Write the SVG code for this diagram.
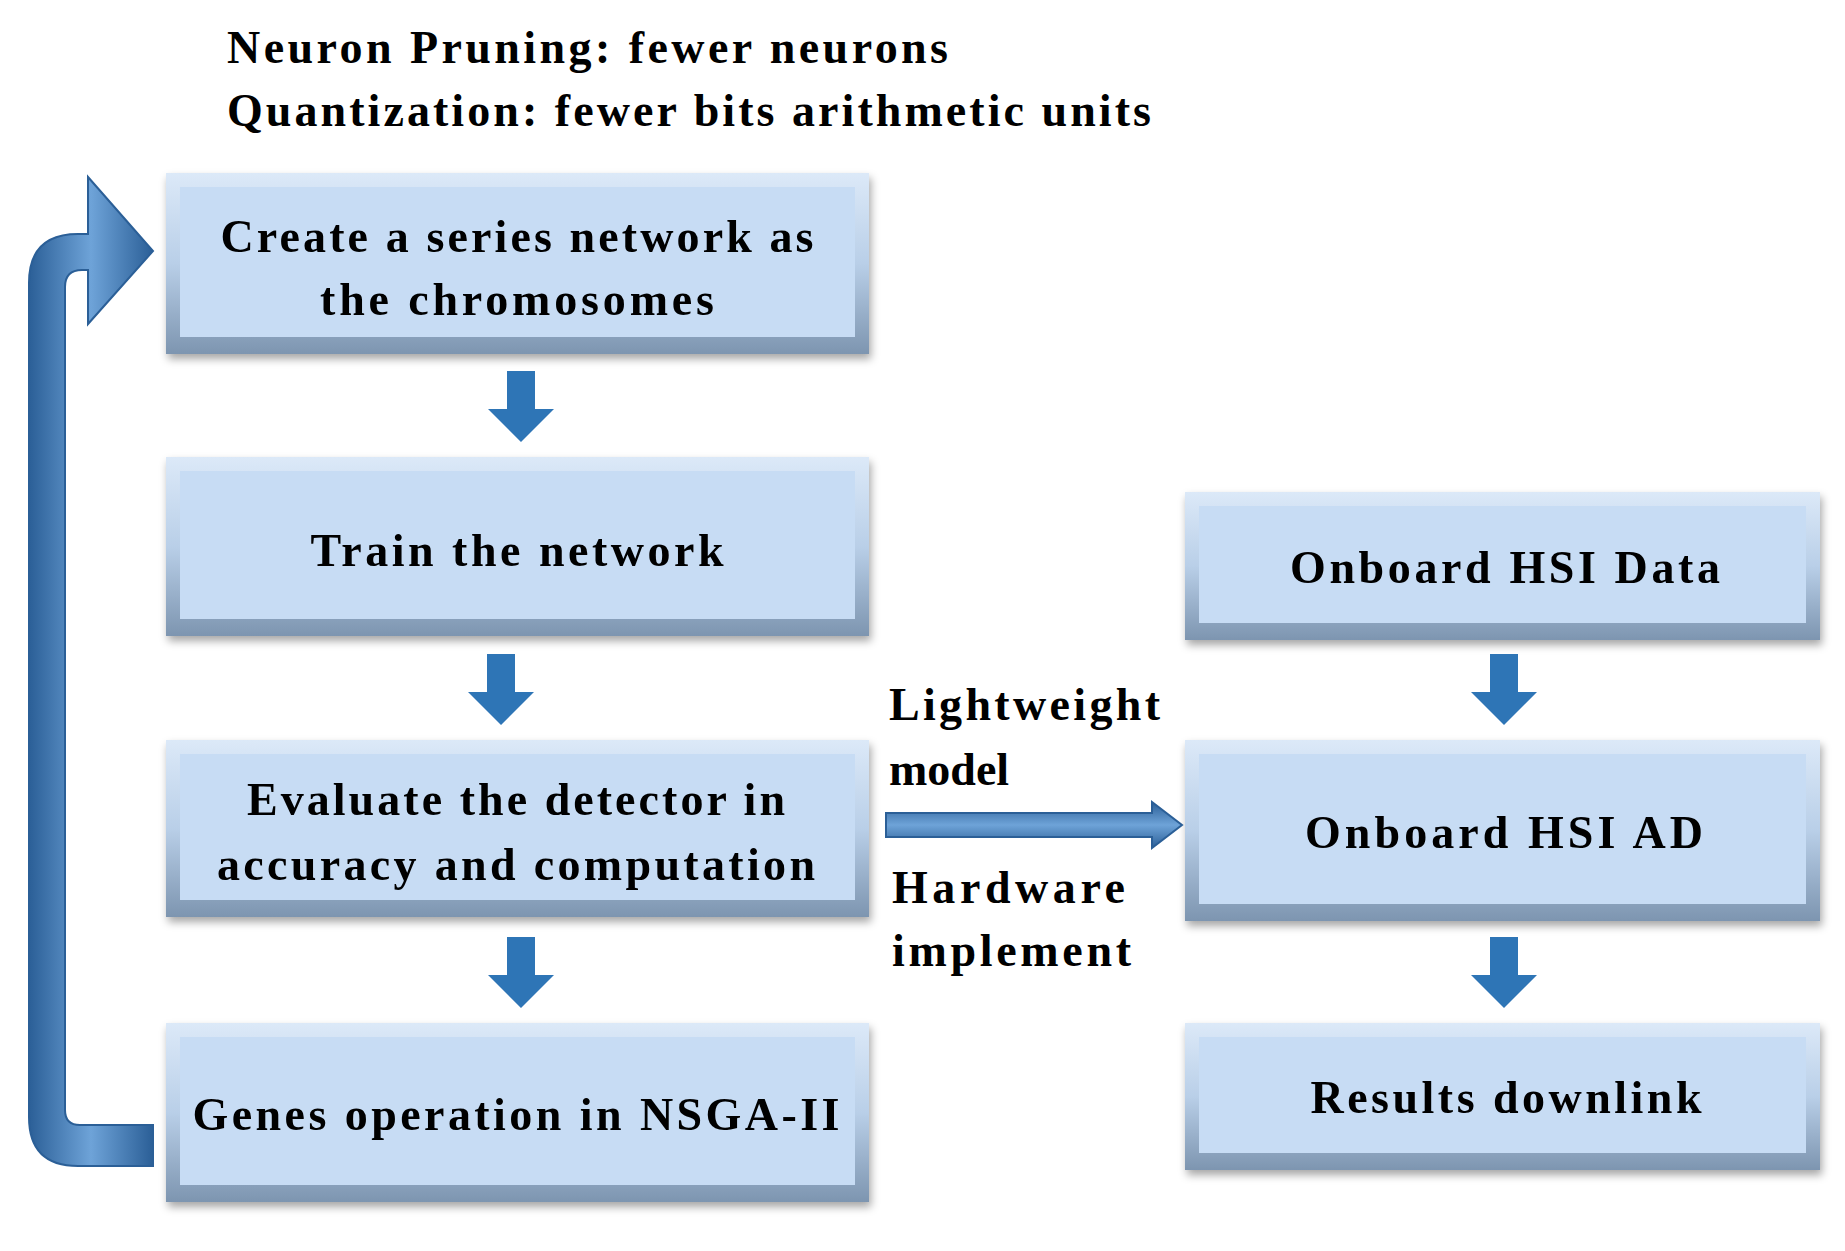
<svg xmlns="http://www.w3.org/2000/svg" width="1845" height="1251" viewBox="0 0 1845 1251">
<style>
text{font-family:"Liberation Serif","Times New Roman",serif;font-weight:bold;font-size:46px;fill:#000}
.bo{fill:url(#bev)}
.bi{fill:#c7dcf4}
.ar{fill:#2e75b6}
</style>
<defs>
<linearGradient id="bev" x1="0" y1="0" x2="0" y2="1">
<stop offset="0" stop-color="#dce9f8"/><stop offset="0.5" stop-color="#b9cfe8"/><stop offset="1" stop-color="#7d95b0"/>
</linearGradient>
<linearGradient id="cv" x1="0" y1="0" x2="1" y2="0">
<stop offset="0" stop-color="#2b5f97"/><stop offset="0.5" stop-color="#6ea3d8"/><stop offset="1" stop-color="#2b5f97"/>
</linearGradient>
<linearGradient id="hv" x1="0" y1="0" x2="0" y2="1">
<stop offset="0" stop-color="#2b5f97"/><stop offset="0.5" stop-color="#6ea3d8"/><stop offset="1" stop-color="#2b5f97"/>
</linearGradient>
<filter id="sh" x="-5%" y="-10%" width="110%" height="130%"><feDropShadow dx="2" dy="5" stdDeviation="4" flood-color="#000" flood-opacity="0.35"/></filter>
</defs>
<text x="227" y="63" textLength="721">Neuron Pruning: fewer neurons</text>
<text x="227" y="126" textLength="924">Quantization: fewer bits arithmetic units</text>
<g id="n1" filter="url(#sh)"><rect class="bo" x="166" y="173" width="703" height="181"/><rect class="bi" x="180" y="187" width="675" height="150"/>
<text x="517" y="252" text-anchor="middle" textLength="593">Create a series network as</text><text x="517" y="315" text-anchor="middle" textLength="394">the chromosomes</text></g>
<g id="n2" filter="url(#sh)"><rect class="bo" x="166" y="457" width="703" height="179"/><rect class="bi" x="180" y="471" width="675" height="148"/>
<text x="517" y="566" text-anchor="middle" textLength="413">Train the network</text></g>
<g id="n3" filter="url(#sh)"><rect class="bo" x="166" y="740" width="703" height="177"/><rect class="bi" x="180" y="754" width="675" height="146"/>
<text x="516" y="815" text-anchor="middle" textLength="538">Evaluate the detector in</text><text x="516" y="880" text-anchor="middle" textLength="598">accuracy and computation</text></g>
<g id="n4" filter="url(#sh)"><rect class="bo" x="166" y="1023" width="703" height="179"/><rect class="bi" x="180" y="1037" width="675" height="148"/>
<text x="516" y="1130" text-anchor="middle" textLength="647">Genes operation in NSGA-II</text></g>
<g id="r1" filter="url(#sh)"><rect class="bo" x="1185" y="492" width="635" height="148"/><rect class="bi" x="1199" y="506" width="607" height="117"/>
<text x="1505" y="583" text-anchor="middle" textLength="430">Onboard HSI Data</text></g>
<g id="r2" filter="url(#sh)"><rect class="bo" x="1185" y="740" width="635" height="181"/><rect class="bi" x="1199" y="754" width="607" height="150"/>
<text x="1504" y="848" text-anchor="middle" textLength="398">Onboard HSI AD</text></g>
<g id="r3" filter="url(#sh)"><rect class="bo" x="1185" y="1023" width="635" height="147"/><rect class="bi" x="1199" y="1037" width="607" height="116"/>
<text x="1506" y="1113" text-anchor="middle" textLength="391">Results downlink</text></g>
<g id="labels">
<text x="889" y="720" textLength="271">Lightweight</text><text x="889" y="785">model</text>
<text x="892" y="903" textLength="233">Hardware</text><text x="892" y="966" textLength="239">implement</text>
</g>
<g id="connectors">
<path class="ar" d="M507,371h28v38h19l-33,33l-33,-33h19z"/>
<path class="ar" d="M487,654h28v38h19l-33,33l-33,-33h19z"/>
<path class="ar" d="M507,937h28v38h19l-33,33l-33,-33h19z"/>
<path class="ar" d="M1490,654h28v38h19l-33,33l-33,-33h19z"/>
<path class="ar" d="M1490,937h28v38h19l-33,33l-33,-33h19z"/>
<path d="M886,813h266v-11l30,23l-30,23v-11h-266z" fill="url(#hv)" stroke="#2b5f97" stroke-width="2"/>
<path d="M153,1166H78Q29,1166 29,1117V283Q29,234 78,234H88V177L153,251L88,324V270H82Q65,270 65,287V1110Q65,1125 80,1125H153Z" fill="url(#cv)" stroke="#2b5f97" stroke-width="2"/>
</g>
</svg>
